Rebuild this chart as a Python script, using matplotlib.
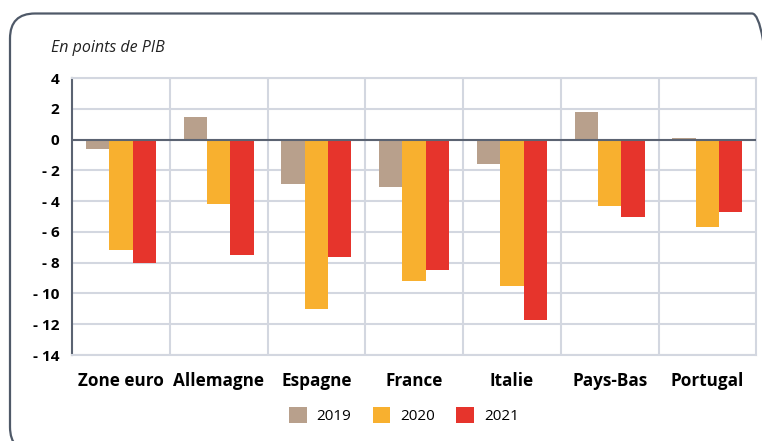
import matplotlib.pyplot as plt
import numpy as np
from matplotlib.patches import FancyBboxPatch
from matplotlib.transforms import IdentityTransform

plt.rcParams["font.family"] = ["Open Sans", "DejaVu Sans"]

pays = ["Zone euro", "Allemagne", "Espagne", "France", "Italie", "Pays-Bas", "Portugal"]
annees = ["2019", "2020", "2021"]
v2019 = [-0.6, 1.5, -2.9, -3.1, -1.6, 1.8, 0.1]
v2020 = [-7.2, -4.2, -11.0, -9.2, -9.5, -4.3, -5.7]
v2021 = [-8.0, -7.5, -7.6, -8.5, -11.7, -5.0, -4.7]
couleurs = ["#b8a08c", "#f8b02f", "#e6342c"]

fig = plt.figure(figsize=(7.62, 4.41), dpi=100)
ax = fig.add_axes([0.0945, 0.195, 0.898, 0.628])

x = np.arange(len(pays))
w = 0.239
for i, (vals, c, a) in enumerate(zip([v2019, v2020, v2021], couleurs, annees)):
    ax.bar(x + (i - 1) * w, vals, w, color=c, label=a, zorder=2)

grille = "#d3d7e0"
ax.set_xlim(-0.5, len(pays) - 0.5)
ax.set_ylim(-14, 4)
yt = np.arange(-14, 5, 2)
ax.set_yticks(yt)
ax.set_yticklabels([f"- {abs(t)}" if t < 0 else str(t) for t in yt],
                   fontsize=11, fontweight="bold")
ax.set_xticks(x)
ax.set_xticklabels(pays, fontsize=12.3, fontweight="bold")
ax.tick_params(axis="y", length=0, pad=9)
ax.tick_params(axis="x", length=0, pad=12)
ax.grid(axis="y", color=grille, lw=1.5, zorder=0)
for b in np.arange(0.5, len(pays) - 0.5, 1):
    ax.axvline(b, color=grille, lw=1.5, zorder=0)
ax.axhline(0, color="#5b6372", lw=1.5, zorder=3)
for s in ["top", "right", "bottom"]:
    ax.spines[s].set_color(grille)
    ax.spines[s].set_linewidth(1.5)
ax.spines["left"].set_color("#5b6372")
ax.spines["left"].set_linewidth(1.5)

fig.text(0.067, 0.891, "En points de PIB", fontsize=11.5, style="italic",
         va="center", color="#222222")

fig.legend(loc="center", bbox_to_anchor=(0.53, 0.057), ncol=3, frameon=False,
           fontsize=11, handlelength=1.15, handleheight=1.15,
           handletextpad=0.65, columnspacing=1.4)

# cadre arrondi qui deborde a droite et en bas
cadre = FancyBboxPatch((10, -11), 767, 438.5, boxstyle="round,pad=0,rounding_size=25",
                       transform=IdentityTransform(), fill=False,
                       edgecolor="#4f5968", lw=1.6)
fig.add_artist(cadre)

fig.savefig("out.png", dpi=100)
